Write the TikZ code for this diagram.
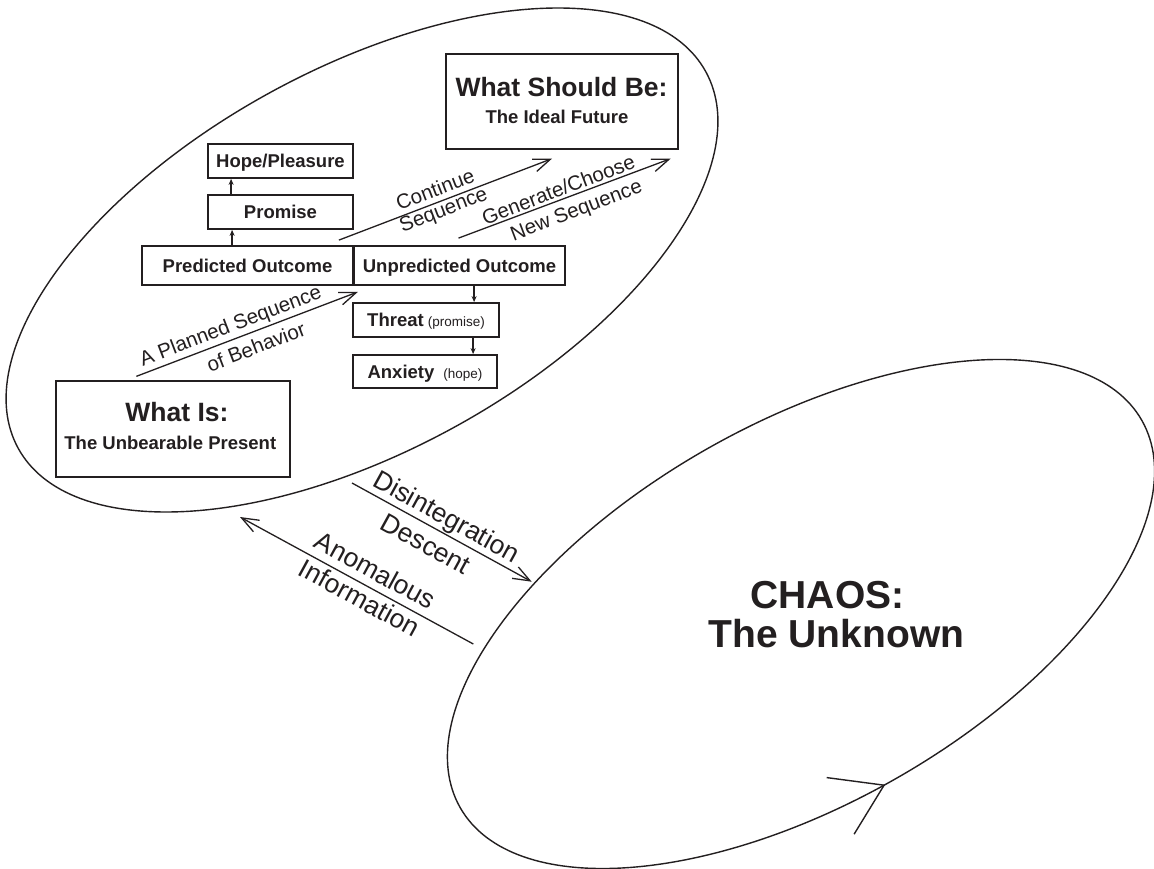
\documentclass[tikz,border=0pt]{standalone}
\usepackage{fontspec}
\setmainfont{Liberation Sans}
\usetikzlibrary{arrows.meta}
\definecolor{ink}{RGB}{35,31,32}
\begin{document}
\begin{tikzpicture}[x=1pt, y=-1pt,
  every node/.style={text=ink},
  sbox/.style={draw=ink, line width=1.8pt, inner sep=0pt, text height=13.5pt, text depth=0pt,
    font=\fontsize{18.5}{22}\selectfont\bfseries},
  bigbox/.style={draw=ink, line width=1.3pt, inner sep=0pt},
  titlefont/.style={inner sep=0pt, font=\fontsize{26.5}{30}\selectfont\bfseries},
  subfont/.style={inner sep=0pt, font=\fontsize{18.5}{22}\selectfont\bfseries},
  lbl/.style={inner sep=0pt, font=\fontsize{20.5}{24}\selectfont},
  biglbl/.style={inner sep=0pt, font=\fontsize{26.5}{30}\selectfont},
  chaosfont/.style={inner sep=0pt, font=\fontsize{39}{42}\selectfont\bfseries},
  longarrow/.style={draw=ink, line width=1.3pt, -{Straight Barb[length=17pt,width=13pt,line width=1.3pt]}},
  shortarrow/.style={draw=ink, line width=1.3pt, -{Stealth[length=6pt,width=5pt]}},
  oval/.style={draw=ink, line width=1.4pt}
]
\fill[white] (0,0) rectangle (1154,869);
\useasboundingbox (0,0) rectangle (1154,869);

% ovals
\draw[oval, shift={(362,260)}, rotate=28.7] (0,0) ellipse [x radius=392, y radius=191];
\draw[oval, shift={(801,614)}, rotate=29.6] (0,0) ellipse [x radius=392, y radius=190];
\path[shift={(801,614)}, rotate=29.6] (91.8:392 and 190) coordinate (loopTip);
\draw[oval, line join=miter] ([shift={(-57.4pt,7.6pt)}]loopTip) -- (loopTip) -- ([shift={(-30pt,-49pt)}]loopTip);

% big boxes
\node[bigbox, minimum width=232, minimum height=95] (should) at (562,101.5) {};
\node[titlefont, anchor=base] (shouldT) at (561.5,96.7) {What Should Be:};
\node[subfont, anchor=base] (shouldS) at (557,123.3) {The Ideal Future};

\node[bigbox, minimum width=234, minimum height=96] (is) at (173,429) {};
\node[titlefont, anchor=base] (isT) at (177,421.7) {What Is:};
\node[subfont, anchor=base] (isS) at (170.3,449) {The Unbearable Present};

% small boxes
\node[sbox, minimum width=145, minimum height=34] (hope) at (280.5,161) {Hope/Pleasure};
\node[sbox, minimum width=145, minimum height=34] (promise) at (280.5,212) {Promise};
\node[sbox, minimum width=211, minimum height=39] (pred) at (247.5,265.5) {Predicted Outcome};
\node[sbox, minimum width=211.4, minimum height=39] (unpred) at (459.5,265.5) {Unpredicted Outcome};
\node[sbox, minimum width=146, minimum height=34] (threat) at (426,320)
  {Threat\hspace{4pt}{\mdseries\fontsize{13.5}{16}\selectfont(promise)}};
\node[sbox, minimum width=144, minimum height=33] (anx) at (425,371.5)
  {Anxiety\hspace{9pt}{\mdseries\fontsize{13.5}{16}\selectfont(hope)}};

% short arrows
\coordinate (pp) at ([xshift=25pt]promise.south west);
\draw[shortarrow] (pp |- pred.north) -- (pp);
\coordinate (ph) at ([xshift=24pt]hope.south west);
\draw[shortarrow] (ph |- promise.north) -- (ph);
\coordinate (ut) at ([xshift=122pt]threat.north west);
\draw[shortarrow] (ut |- unpred.south) -- (ut);
\coordinate (ta) at ([xshift=121pt]anx.north west);
\draw[shortarrow] (ta |- threat.south) -- (ta);

% long arrows
\draw[longarrow] ([shift={(81pt,4pt)}]is.north west) -- ([shift={(4pt,-6pt)}]pred.south east);
\draw[longarrow] ([shift={(-15pt,5pt)}]pred.north east) -- ([shift={(-10pt,-9pt)}]should.south);
\draw[longarrow] ([shift={(-1pt,7pt)}]unpred.north) -- ([shift={(-8pt,-9pt)}]should.south east);
\coordinate (disS) at (352,483);
\coordinate (disE) at (531.7,581.7);
\draw[longarrow] (disS) -- (disE);
\coordinate (anoS) at (473.3,644);
\coordinate (anoE) at (240,517);
\draw[longarrow] (anoS) -- (anoE);

% arrow labels
\node[lbl, rotate=21] (l1) at (231,327) {A Planned Sequence};
\node[lbl, rotate=21] (l2) at (256,346.7) {of Behavior};
\node[lbl, rotate=21.1] (l3) at (435,189) {Continue};
\node[lbl, rotate=21.1] (l4) at (444,211) {Sequence};
\node[lbl, rotate=20.9] (l5) at (558.3,189.3) {Generate/Choose};
\node[lbl, rotate=20.9] (l6) at (576.7,211.7) {New Sequence};
\node[biglbl, rotate=-28.8] (l7) at (445.7,518.3) {Disintegration};
\node[biglbl, rotate=-28.8] (l8) at (425.7,544) {Descent};
\node[biglbl, rotate=-28.6] (l9) at (375.7,570.3) {Anomalous};
\node[biglbl, rotate=-28.6] (l10) at (359.4,597.7) {Information};

% chaos
\node[chaosfont, anchor=base] (chaos1) at (827.5,608) {CHAOS:};
\node[chaosfont, anchor=base] (chaos2) at (836.5,647) {The Unknown};
\end{tikzpicture}
\end{document}
